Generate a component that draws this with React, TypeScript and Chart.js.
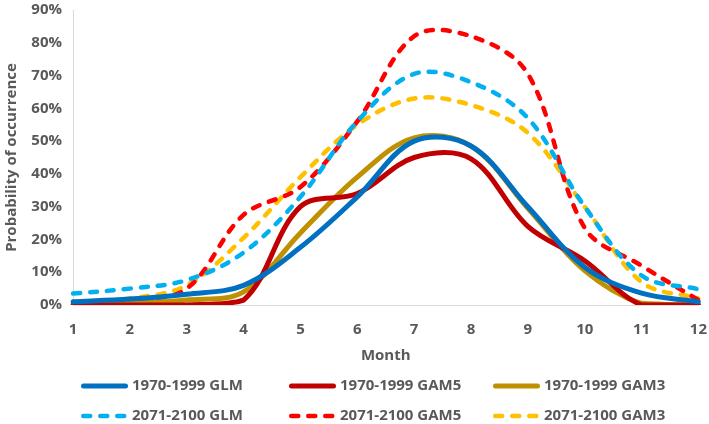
import React, { useEffect, useRef } from "react";
import { Chart, registerables } from "chart.js";

Chart.register(...registerables);

const months = ["1", "2", "3", "4", "5", "6", "7", "8", "9", "10", "11", "12"];

const glm1970 = [1, 1.8, 3.3, 6, 17.6, 33, 50, 48.5, 30, 11.5, 3.6, 1];
const gam5_1970 = [0, 0, 0, 1.5, 30, 34, 45, 44.6, 24, 13.5, 0, 0];
const gam3_1970 = [0.3, 0.5, 1.5, 4, 22, 39, 51, 48.5, 29.5, 10.5, 0.5, 0];
const glm2071 = [3.5, 5, 7.6, 16, 33, 56, 70.5, 68, 57, 30, 9, 4.8];
const gam5_2071 = [0.5, 1.5, 5, 27.5, 36, 56, 82, 82, 70.5, 23.5, 12, 1.5];
const gam3_2071 = [1, 2, 6, 20.5, 39, 55, 63, 61, 52.5, 30, 7, 2];

const yTicks = [0, 10, 20, 30, 40, 50, 60, 70, 80, 90];

const seriesLabels = [
  "1970-1999 GLM",
  "1970-1999 GAM5",
  "1970-1999 GAM3",
  "2071-2100 GLM",
  "2071-2100 GAM5",
  "2071-2100 GAM3",
];
const seriesColors = ["#0070C0", "#C00000", "#BF9000", "#00B0F0", "#FF0000", "#FFC000"];

const TEXT = "#595959";
const FONT_FAMILY = '"Open Sans", "Noto Sans", sans-serif';

const LEGEND_X = [81, 289, 493];
const LEGEND_Y = [386, 416];
const LEGEND_LINE = 47;

const gridLegend = {
  id: "gridLegend",
  afterDraw(chart: any) {
    const ctx = chart.ctx;
    chart.data.datasets.forEach((ds: any, i: number) => {
      const col = i % 3;
      const row = Math.floor(i / 3);
      const x = LEGEND_X[col];
      const y = LEGEND_Y[row];
      ctx.save();
      ctx.strokeStyle = ds.borderColor;
      ctx.lineWidth = ds.borderWidth;
      ctx.lineCap = ds.borderCapStyle || "butt";
      ctx.setLineDash(ds.borderDash || []);
      const cap = ds.borderWidth / 2;
      ctx.beginPath();
      ctx.moveTo(x + cap, y);
      ctx.lineTo(x + LEGEND_LINE - cap, y);
      ctx.stroke();
      ctx.setLineDash([]);
      ctx.fillStyle = TEXT;
      ctx.font = `bold 15px ${FONT_FAMILY}`;
      ctx.textBaseline = "middle";
      ctx.textAlign = "left";
      ctx.fillText(ds.label, x + LEGEND_LINE + 4, y);
      ctx.restore();
    });
  },
};

export default function App() {
  const canvasRef = useRef<HTMLCanvasElement | null>(null);

  useEffect(() => {
    if (!canvasRef.current) return;
    const allSeries = [glm1970, gam5_1970, gam3_1970, glm2071, gam5_2071, gam3_2071];
    const chart = new Chart(canvasRef.current, {
      type: "line",
      data: {
        labels: months,
        datasets: allSeries.map((d, i) => ({
          label: seriesLabels[i],
          data: d,
          borderColor: seriesColors[i],
          backgroundColor: seriesColors[i],
          borderWidth: i < 3 ? 5 : 4.5,
          borderDash: i < 3 ? [] : [7, 10],
          borderCapStyle: "round" as const,
          pointRadius: 0,
          tension: 0.35,
          fill: false,
        })),
      },
      options: {
        animation: false,
        responsive: true,
        maintainAspectRatio: false,
        layout: { padding: { top: 0, right: -2, bottom: 59, left: 0 } },
        plugins: {
          legend: { display: false },
          tooltip: { enabled: false },
        },
        scales: {
          x: {
            type: "category",
            offset: false,
            grid: { display: false, drawTicks: true, tickLength: 14 },
            border: { display: true, color: "#D9D9D9", width: 1 },
            ticks: {
              color: TEXT,
              font: { family: FONT_FAMILY, size: 15, weight: "bold" },
              padding: 2,
              maxRotation: 0,
              autoSkip: false,
            },
            title: {
              display: true,
              text: "Month",
              color: TEXT,
              font: { family: FONT_FAMILY, size: 15, weight: "bold" },
              padding: { top: 0, bottom: 0 },
            },
            afterFit: (s: any) => {
              s.height = 60;
            },
          },
          y: {
            min: 0,
            max: 90,
            afterBuildTicks: (s: any) => {
              s.ticks = yTicks.map((v) => ({ value: v }));
            },
            grid: { display: false, drawTicks: true, tickLength: 10 },
            border: { display: true, color: "#D9D9D9", width: 1 },
            ticks: {
              color: TEXT,
              font: { family: FONT_FAMILY, size: 15, weight: "bold" },
              padding: 1,
              callback: (v: any) => `${v}%`,
            },
            title: {
              display: true,
              text: "Probability of occurrence",
              color: TEXT,
              font: { family: FONT_FAMILY, size: 15, weight: "bold" },
              padding: { top: 3, bottom: 0 },
            },
            afterFit: (s: any) => {
              s.width = 73;
            },
          },
        },
      },
      plugins: [gridLegend],
    });
    return () => chart.destroy();
  }, []);

  return (
    <div style={{ position: "fixed", left: 0, top: 0, width: 709, height: 424, background: "#fff" }}>
      <canvas ref={canvasRef} />
    </div>
  );
}
